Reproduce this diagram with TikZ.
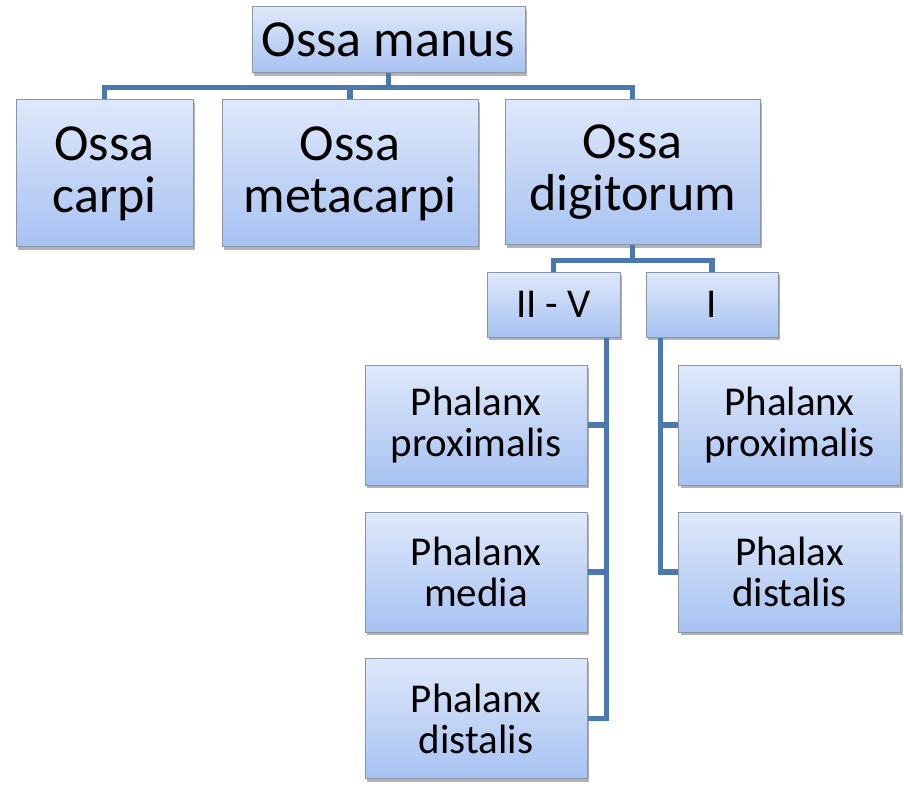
\documentclass[tikz,border=0pt]{standalone}
\usepackage{fontspec}
\setmainfont{Carlito}
\usetikzlibrary{shadows}
\definecolor{boxtop}{HTML}{DFE8FA}
\definecolor{boxbot}{HTML}{A7C2F2}
\definecolor{boxline}{HTML}{8A96A8}
\definecolor{linkblue}{HTML}{4B78AE}

\begin{document}
\begin{tikzpicture}[x=1pt,y=-1pt,
  bone/.style={draw=boxline, line width=1pt, top color=boxtop, bottom color=boxbot,
    align=center, inner sep=0pt,
    drop shadow={shadow xshift=2pt, shadow yshift=-3pt, fill=black, opacity=0.3}},
  big/.style={bone, font=\fontsize{52}{52}\selectfont},
  small/.style={bone, font=\fontsize{41}{41}\selectfont},
  phal/.style={small, minimum width=222pt, minimum height=120pt},
  link/.style={draw=linkblue, line width=5.5pt}]
\useasboundingbox (0,0) rectangle (904,786);

% Top box
\node[big, minimum width=273pt, minimum height=66pt] (manus) at (388.5,40) {Ossa manus};

% Second row
\node[big, minimum width=177pt, minimum height=147pt] (carpi) at (104.5,173.5) {Ossa\\carpi};
\node[big, minimum width=256pt, minimum height=147pt] (metacarpi) at (350,173.5) {Ossa\\metacarpi};
\node[big, minimum width=255pt, minimum height=145pt] (digitorum) at (632.5,172.5) {Ossa\\digitorum};

% Fingers
\node[small, minimum width=133pt, minimum height=65pt] (twofive) at (553.5,304.5) {II - V};
\node[small, minimum width=132pt, minimum height=65pt] (one) at (712,304.5) {I};

% Phalanges II - V
\node[phal] (prox) at (476,425) {Phalanx\\proximalis};
\node[phal] (media) at (476,572) {Phalanx\\media};
\node[phal] (dist) at (476,718.5) {Phalanx\\distalis};

% Phalanges I
\node[phal] (proxI) at (789.5,425) {Phalanx\\proximalis};
\node[phal] (distI) at (789.5,572) {Phalax\\distalis};

% Links from the top
\draw[link] (manus.south) -- ++(0,14) coordinate (bus) -| (carpi.north);
\draw[link] (bus) -| (metacarpi.north);
\draw[link] (bus) -| (digitorum.north);

% Links to the fingers
\draw[link] (digitorum.south) -- ++(0,15) coordinate (bus2) -| (twofive.north);
\draw[link] (bus2) -| (one.north);

% Trunks
\coordinate (trunk) at ([xshift=-14pt]twofive.south east);
\draw[link] (trunk) |- (dist.east);
\draw[link] (prox.east) -| (trunk);
\draw[link] (media.east) -| (trunk);

\coordinate (trunkI) at ([xshift=15pt]one.south west);
\draw[link] (trunkI) |- (distI.west);
\draw[link] (proxI.west) -| (trunkI);
\end{tikzpicture}
\end{document}
